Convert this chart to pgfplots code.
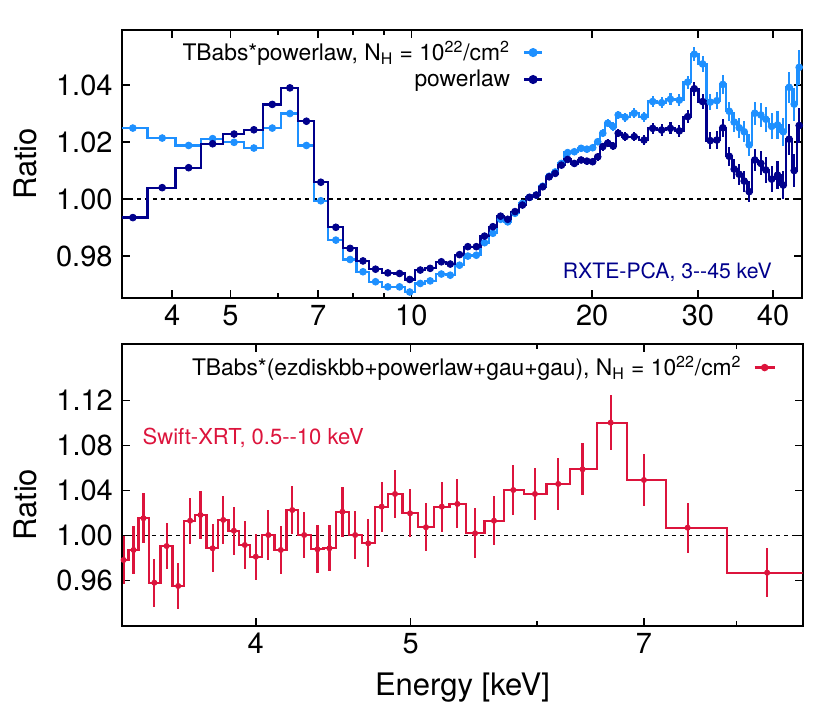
\documentclass[border=0pt]{standalone}
\usepackage{fontspec}
\setmainfont{TeX Gyre Heros}
\usepackage{pgfplots}
\pgfplotsset{compat=1.18}
\usepackage{pgfplotstable}
\definecolor{lb}{RGB}{30,144,255}
\definecolor{db}{RGB}{0,0,140}
\definecolor{cr}{RGB}{220,20,60}

\pgfplotstableread{
E L D err
3.10 1.0249 0.9935 0
3.44 1.0249 0.9935 0.0004
3.85 1.0214 1.0040 0.0004
4.26 1.0188 1.0110 0.0004
4.67 1.0212 1.0194 0.0004
5.07 1.0199 1.0228 0.0004
5.47 1.0179 1.0243 0.0004
5.87 1.0249 1.0332 0.0004
6.28 1.0300 1.0390 0.0004
6.69 1.0188 1.0273 0.0004
7.07 0.9994 1.0059 0.0004
7.49 0.9856 0.9901 0.0004
7.91 0.9788 0.9827 0.0004
8.31 0.9745 0.9783 0.0004
8.72 0.9710 0.9754 0.0004
9.14 0.9692 0.9741 0.0004
9.56 0.9692 0.9739 0.0004
9.94 0.9674 0.9718 0.0004
10.35 0.9704 0.9751 0.0004
10.75 0.9713 0.9757 0.0004
11.22 0.9737 0.9780 0.0004
11.61 0.9733 0.9772 0.0004
12.03 0.9768 0.9805 0.0006
12.42 0.9800 0.9833 0.0006
12.83 0.9803 0.9833 0.0006
13.24 0.9847 0.9870 0.0006
13.67 0.9880 0.9903 0.0006
14.08 0.9929 0.9940 0.0007
14.47 0.9920 0.9929 0.0007
14.88 0.9950 0.9956 0.0007
15.31 0.9985 0.9979 0.0008
15.73 1.0006 1.0006 0.0008
16.14 1.0014 1.0014 0.0009
16.55 1.0045 1.0043 0.0009
16.96 1.0080 1.0078 0.0009
17.36 1.0095 1.0090 0.0010
17.78 1.0125 1.0119 0.0010
18.21 1.0163 1.0139 0.0010
18.68 1.0166 1.0125 0.0011
19.17 1.0178 1.0137 0.0011
19.60 1.0175 1.0133 0.0012
20.04 1.0180 1.0131 0.0012
20.43 1.0201 1.0148 0.0013
20.83 1.0231 1.0184 0.0014
21.23 1.0266 1.0196 0.0014
21.68 1.0254 1.0186 0.0015
22.10 1.0295 1.0231 0.0015
22.70 1.0287 1.0219 0.0016
23.50 1.0301 1.0219 0.0017
24.40 1.0289 1.0207 0.0018
25.22 1.0342 1.0248 0.0019
26.10 1.0338 1.0242 0.0020
27.00 1.0350 1.0248 0.0021
27.93 1.0347 1.0239 0.0022
28.84 1.0410 1.0289 0.0023
29.58 1.0508 1.0387 0.0025
30.54 1.0474 1.0342 0.0027
31.45 1.0340 1.0205 0.0029
32.25 1.0345 1.0207 0.0030
33.00 1.0402 1.0250 0.0032
33.82 1.0308 1.0150 0.0033
34.47 1.0270 1.0105 0.0034
35.14 1.0250 1.0087 0.0036
35.82 1.0236 1.0063 0.0037
36.51 1.0190 1.0026 0.0038
37.30 1.0301 1.0137 0.0040
38.18 1.0295 1.0125 0.0042
38.92 1.0280 1.0102 0.0044
39.80 1.0255 1.0070 0.0046
40.70 1.0260 1.0084 0.0048
41.60 1.0236 1.0049 0.0050
42.55 1.0392 1.0210 0.0055
43.38 1.0333 1.0100 0.0058
44.22 1.0462 1.0258 0.0062
50.00 1.0462 1.0258 0
}\topdata

\pgfplotstableread{
E V err
3.10 0.9784 0
3.306 0.9784 0.0213
3.354 0.9873 0.0213
3.402 1.0155 0.0222
3.456 0.9582 0.0213
3.518 0.9908 0.0205
3.577 0.9553 0.0205
3.639 1.0133 0.0205
3.694 1.0184 0.0213
3.759 0.9888 0.0213
3.817 1.0140 0.0213
3.876 1.0044 0.0213
3.938 0.9917 0.0213
4.000 0.9813 0.0205
4.073 1.0006 0.0222
4.147 0.9873 0.0213
4.216 1.0228 0.0213
4.289 1.0006 0.0205
4.372 0.9879 0.0213
4.448 0.9888 0.0205
4.532 1.0213 0.0222
4.616 1.0006 0.0213
4.704 0.9932 0.0213
4.796 1.0258 0.0222
4.889 1.0371 0.0213
4.996 1.0199 0.0213
5.112 1.0075 0.0213
5.230 1.0258 0.0222
5.349 1.0282 0.0218
5.487 1.0021 0.0222
5.639 1.0133 0.0218
5.798 1.0406 0.0222
5.982 1.0371 0.0231
6.186 1.0460 0.0231
6.407 1.0590 0.0231
6.672 1.1005 0.0244
7.000 1.0495 0.0231
7.455 1.0071 0.0222
8.360 0.9671 0.0218
10.00 0.9671 0
}\botdata

\begin{document}
\begin{tikzpicture}
\useasboundingbox (0pt,0pt) rectangle (407pt,-356pt);

\begin{axis}[
  xmode=log,
  scale only axis,
  at={(61pt,-15pt)}, anchor=north west,
  width=340pt, height=134pt,
  xmin=3.3, xmax=44.7, ymin=0.9653, ymax=1.0593,
  axis line style={line width=1pt},
  major tick style={line width=0.8pt, black},
  minor tick style={line width=0.8pt, black},
  major tick length=4pt,
  minor tick length=2.5pt,
  tick align=inside,
  ticklabel style={font=\fontsize{14.5}{17}\selectfont},
  yticklabel style={xshift=-1.2pt},
  label style={font=\fontsize{15.5}{18}\selectfont},
  xtick={4,5,7,10,20,30,40},
  xticklabels={4,5,7,10,20,30,40},
  minor xtick={6,8,9},
  ytick={0.98,1.00,1.02,1.04},
  yticklabels={0.98,1.00,1.02,1.04},
  ylabel={Ratio},
  ylabel style={at={(axis description cs:-0.125,0.5)}, anchor=south, inner sep=0pt},
  legend cell align=right,
  legend plot pos=right,
  legend image code/.code={\draw[mark repeat=2,mark phase=2] plot coordinates {(0pt,0pt) (4.5pt,0pt) (9pt,0pt)};},
  legend style={draw=none, fill=none, inner sep=0pt, row sep=0pt, column sep=5pt,
    font=\fontsize{11.4}{13.5}\selectfont,
    nodes={inner sep=1.5pt},
    at={(0.62,0.97)}, anchor=north east},
]
\addplot[black, line width=0.6pt, dash pattern=on 2pt off 2pt, forget plot] coordinates {(3,1) (50,1)};
\addplot[lb, line width=1.1pt, const plot mark mid, forget plot] table[x=E,y=L]{\topdata};
\addplot[lb, only marks, mark=*, mark size=1.7pt, forget plot,
  error bars/.cd, y dir=both, y explicit, error mark=none,
  error bar style={line width=1.1pt}] table[x=E,y=L,y error=err]{\topdata};
\addplot[db, line width=1.1pt, const plot mark mid, forget plot] table[x=E,y=D]{\topdata};
\addplot[db, only marks, mark=*, mark size=1.7pt, forget plot,
  error bars/.cd, y dir=both, y explicit, error mark=none,
  error bar style={line width=1.1pt}] table[x=E,y=D,y error=err]{\topdata};
\addlegendimage{lb, line width=1.1pt, mark=*, mark size=1.7pt}
\addlegendentry{TBabs*powerlaw, N\textsubscript{H} = 10\textsuperscript{22}/cm\textsuperscript{2}}
\addlegendimage{db, line width=1.1pt, mark=*, mark size=1.7pt}
\addlegendentry{powerlaw}
\node[anchor=base east, inner sep=0pt, text=db, font=\fontsize{10.6}{12}\selectfont] at (rel axis cs:0.956,0.071) {RXTE-PCA, 3-{}-45 keV};
\end{axis}

\begin{axis}[
  xmode=log,
  scale only axis,
  at={(61.15pt,-172pt)}, anchor=north west,
  width=340.2pt, height=141pt,
  xmin=3.30, xmax=8.80, ymin=0.9197, ymax=1.1704,
  axis line style={line width=1pt},
  major tick style={line width=0.8pt, black},
  minor tick style={line width=0.8pt, black},
  major tick length=4pt,
  minor tick length=2.5pt,
  tick align=inside,
  ticklabel style={font=\fontsize{14.5}{17}\selectfont},
  yticklabel style={xshift=-1.2pt},
  label style={font=\fontsize{15.5}{18}\selectfont},
  xtick={4,5,7},
  xticklabels={4,5,7},
  minor xtick={6,8},
  ytick={0.96,1.00,1.04,1.08,1.12},
  yticklabels={0.96,1.00,1.04,1.08,1.12},
  ylabel={Ratio},
  ylabel style={at={(axis description cs:-0.125,0.43)}, anchor=south, inner sep=0pt},
  xlabel={Energy [keV]},
  xlabel style={at={(axis description cs:0.5,-0.2465)}, anchor=base, inner sep=0pt},
  legend cell align=right,
  legend plot pos=right,
  legend image code/.code={\draw[mark repeat=2,mark phase=2] plot coordinates {(0pt,0pt) (5pt,0pt) (10pt,0pt)};},
  legend style={draw=none, fill=none, inner sep=0pt, row sep=0pt, column sep=4.5pt,
    font=\fontsize{11.4}{13.5}\selectfont,
    nodes={inner sep=1.5pt},
    at={(0.961,0.968)}, anchor=north east},
]
\addplot[black, line width=0.6pt, dash pattern=on 2pt off 2pt, forget plot] coordinates {(3,1) (10,1)};
\addplot[cr, line width=1.1pt, const plot mark mid, forget plot] table[x=E,y=V]{\botdata};
\addplot[cr, only marks, mark=*, mark size=1.3pt, forget plot,
  error bars/.cd, y dir=both, y explicit, error mark=none,
  error bar style={line width=1.1pt}] table[x=E,y=V,y error=err]{\botdata};
\addlegendimage{cr, line width=1.1pt, mark=*, mark size=1.3pt}
\addlegendentry{TBabs*(ezdiskbb+powerlaw+gau+gau), N\textsubscript{H} = 10\textsuperscript{22}/cm\textsuperscript{2}}
\node[anchor=base west, inner sep=0pt, text=cr, font=\fontsize{11}{13}\selectfont] at (rel axis cs:0.0294,0.643) {Swift-XRT, 0.5-{}-10 keV};
\end{axis}
\end{tikzpicture}
\end{document}
